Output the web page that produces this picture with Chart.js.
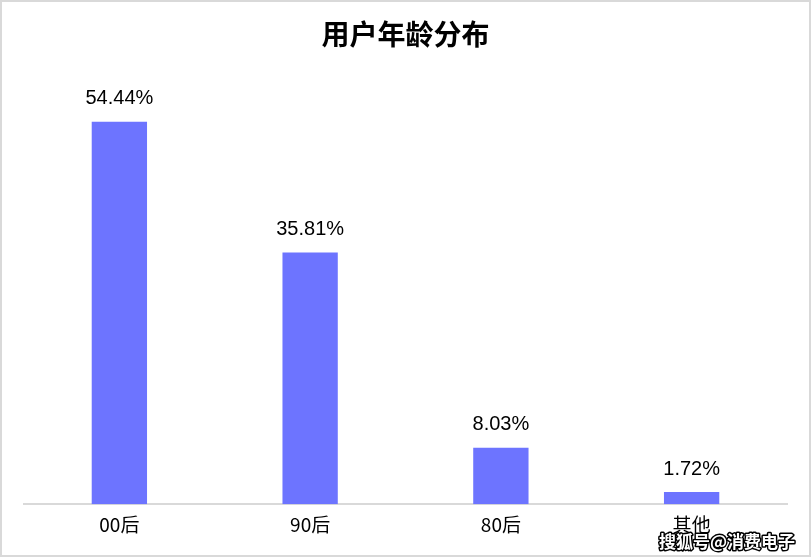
<!DOCTYPE html>
<html>
<head>
<meta charset="utf-8">
<script src="https://cdn.jsdelivr.net/npm/chart.js@4/dist/chart.umd.min.js"></script>
<style>
  html, body { margin: 0; padding: 0; background: #fff; }
  #wrap { position: relative; width: 811px; height: 557px; }
  #frame { position: absolute; left: 0; top: 0; width: 811px; height: 557px; box-sizing: border-box; border: 2px solid #d9d9d9; pointer-events: none; }
</style>
</head>
<body>
<div id="wrap">
  <canvas id="ageChart" width="811" height="557"></canvas>
  <div id="frame"></div>
</div>
<script>
// 数据
const categories = ["00后", "90后", "80后", "其他"];
const shares = [54.44, 35.81, 8.03, 1.72];

const CJK = '"Noto Sans CJK SC", "Liberation Sans", Arial, sans-serif';

// 柱顶数值标签 + 水印
const labelPlugin = {
  id: "barLabels",
  afterDatasetsDraw(chart) {
    const ctx = chart.ctx;
    const meta = chart.getDatasetMeta(0);
    ctx.save();
    ctx.font = '20px "Liberation Sans", Arial, sans-serif';
    ctx.fillStyle = "#000";
    ctx.textAlign = "center";
    ctx.textBaseline = "middle";
    meta.data.forEach((bar, i) => {
      ctx.fillText(shares[i].toFixed(2) + "%", bar.x, bar.y - 23);
    });
    ctx.restore();
  },
  afterDraw(chart) {
    const ctx = chart.ctx;
    ctx.save();
    ctx.font = "bold 17px " + CJK;
    ctx.textAlign = "right";
    ctx.textBaseline = "middle";
    ctx.lineWidth = 3;
    ctx.strokeStyle = "#000";
    ctx.lineJoin = "round";
    ctx.strokeText("搜狐号@消费电子", 795, 542);
    ctx.fillStyle = "#fff";
    ctx.fillText("搜狐号@消费电子", 795, 542);
    ctx.restore();
  }
};

new Chart(document.getElementById("ageChart"), {
  type: "bar",
  data: {
    labels: categories,
    datasets: [{
      data: shares,
      backgroundColor: "#6d74ff",
      barPercentage: 0.29,
      categoryPercentage: 1
    }]
  },
  options: {
    responsive: false,
    animation: false,
    layout: { padding: { left: 24, right: 24, top: 0, bottom: 12 } },
    plugins: {
      legend: { display: false },
      tooltip: { enabled: false },
      title: {
        display: true,
        text: "用户年龄分布",
        color: "#000",
        font: { family: CJK, size: 28, weight: "bold" },
        padding: { top: 18, bottom: 31 }
      }
    },
    scales: {
      x: {
        grid: { display: false, drawTicks: false },
        border: { color: "#d9d9d9", width: 2 },
        ticks: { color: "#000", padding: 9, font: { family: CJK, size: 19 } }
      },
      y: {
        display: false,
        min: 0,
        max: 60
      }
    }
  },
  plugins: [labelPlugin]
});
</script>
</body>
</html>
